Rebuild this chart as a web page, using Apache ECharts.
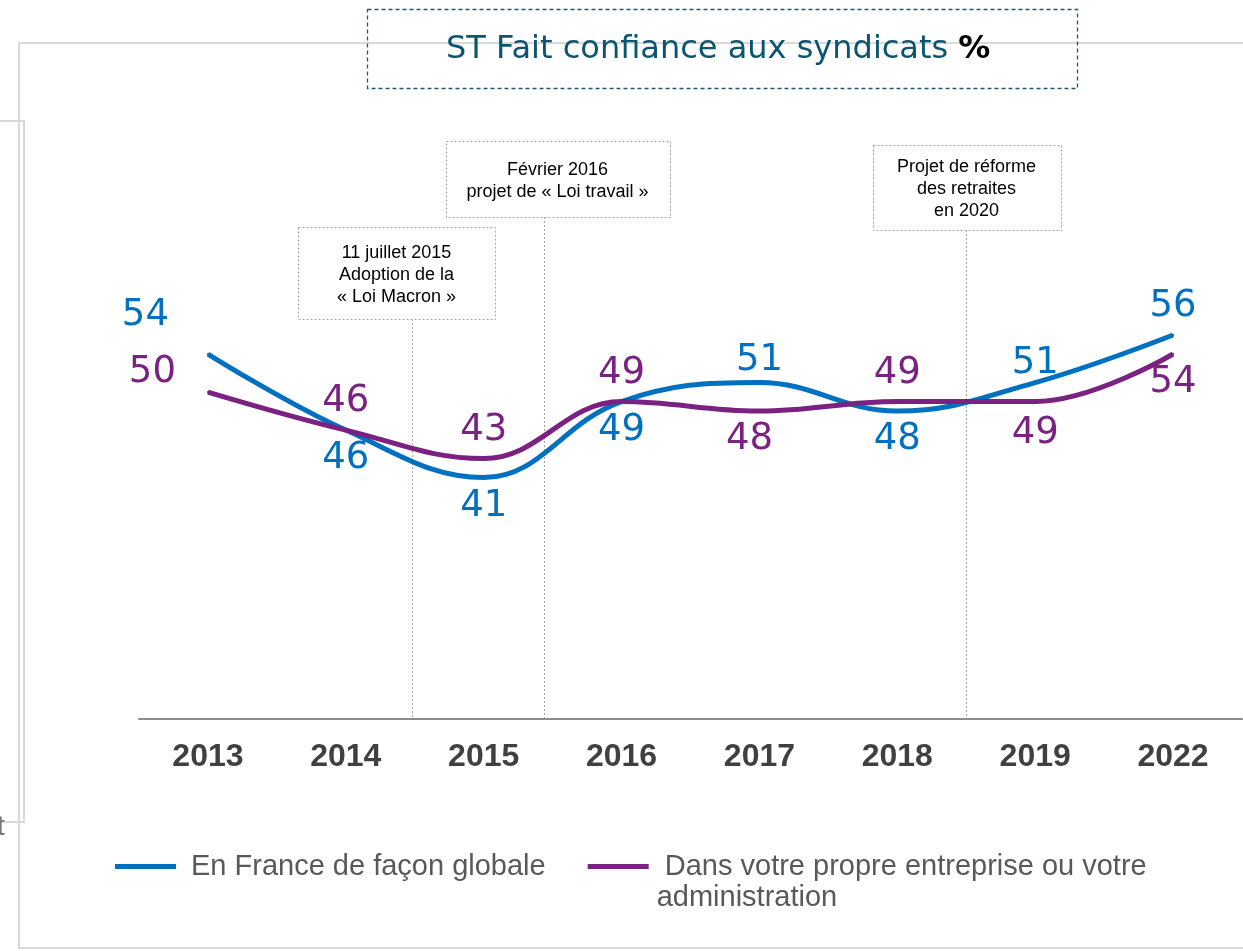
<!DOCTYPE html>
<html>
<head>
<meta charset="utf-8">
<title>ST Fait confiance aux syndicats</title>
<script src="https://cdn.jsdelivr.net/npm/echarts@6/dist/echarts.min.js"></script>
<style>
  html, body { margin: 0; padding: 0; background: #fff; }
  #chart { width: 1243px; height: 951px; }
</style>
</head>
<body>
<div id="chart"></div>
<script>
// data
const years = ['2013', '2014', '2015', '2016', '2017', '2018', '2019', '2022']
const franceGlobale = [54, 46, 41, 49, 51, 48, 51, 56]
const propreEntreprise = [50, 46, 43, 49, 48, 49, 49, 54]
const seriesNames = ['En France de façon globale', 'Dans votre propre entreprise ou votre\nadministration']
// events, placed on the year index scale (0 = 2013 ... 7 = 2022)
const eventPos = [1.48, 2.44, 5.5]
const eventText = [
  '11 juillet 2015\nAdoption de la\n« Loi Macron »',
  'Février 2016\nprojet de « Loi travail »',
  'Projet de réforme\ndes retraites\nen 2020'
]

// styles
const BLUE = '#0070c0'
const PURPLE = '#7b2182'
const blueSide = ['left', 'bottom', 'bottom', 'bottom', 'top', 'bottom', 'top', 'top']
const purpleSide = ['left', 'top', 'top', 'top', 'bottom', 'top', 'bottom', 'bottom']
const eventBox = [
  { dx: -16, top: 227, w: 197, h: 92 },
  { dx: 13, top: 141, w: 224, h: 76 },
  { dx: 0, top: 145, w: 188, h: 85 }
]

function buildData (values, sides, tweaks) {
  return values.map((v, i) => {
    const label = { position: sides[i], distance: 9 }
    if (tweaks[i]) Object.assign(label, tweaks[i])
    return { value: v, label }
  })
}

const myChart = echarts.init(document.getElementById('chart'))

const labelFont = {
  show: true,
  fontFamily: 'DejaVu Sans',
  fontSize: 37
}

const option = {
  backgroundColor: '#fff',
  animation: false,
  grid: {
    left: 139,
    right: 1,
    top: 297,
    bottom: 232,
    containLabel: false
  },
  legend: {
    left: 110,
    top: 815,
    icon: 'rect',
    itemWidth: 61,
    itemHeight: 5,
    itemGap: 42,
    selectedMode: false,
    formatter: (name) => name === seriesNames[1] ? '\n ' + name : name,
    textStyle: {
      fontFamily: 'Liberation Sans',
      fontSize: 29,
      color: '#595959',
      lineHeight: 31,
      padding: [0, 0, 0, 10]
    },
    data: [
      { name: seriesNames[0] },
      { name: seriesNames[1], textStyle: { padding: [0, 0, 0, 3] } }
    ]
  },
  xAxis: [
    {
      type: 'category',
      data: years,
      boundaryGap: true,
      axisTick: { show: false },
      axisLine: { lineStyle: { color: '#8c8c8c', width: 2 } },
      axisLabel: {
        margin: 22,
        fontFamily: 'Liberation Sans',
        fontWeight: 'bold',
        fontSize: 32,
        color: '#404040'
      },
      splitLine: { show: false }
    },
    {
      // same span as the category bands, used to place the events
      type: 'value',
      min: -0.5,
      max: years.length - 0.5,
      show: false
    }
  ],
  yAxis: {
    type: 'value',
    min: 15.6,
    max: 60,
    show: false,
    splitLine: { show: false }
  },
  series: [
    {
      name: seriesNames[0],
      type: 'line',
      smooth: 0.4,
      symbol: 'circle',
      symbolSize: 2,
      color: BLUE,
      lineStyle: { width: 5, color: BLUE },
      label: Object.assign({ color: BLUE }, labelFont),
      z: 2,
      data: buildData(franceGlobale, blueSide, {
        0: { distance: 38, offset: [0, -39] },
        4: { distance: 3 },
        6: { distance: 0 }
      })
    },
    {
      name: seriesNames[1],
      type: 'line',
      smooth: 0.4,
      symbol: 'circle',
      symbolSize: 2,
      color: PURPLE,
      lineStyle: { width: 5, color: PURPLE },
      label: Object.assign({ color: PURPLE }, labelFont),
      z: 3,
      data: buildData(propreEntreprise, purpleSide, {
        0: { distance: 31, offset: [0, -20] },
        4: { offset: [-10, 0] },
        6: { distance: 12 }
      })
    }
  ],
  graphic: [
    {
      type: 'rect',
      silent: true,
      shape: { x: 19, y: 43, width: 1300, height: 905 },
      style: { fill: 'none', stroke: '#d9d9d9', lineWidth: 2 }
    },
    {
      type: 'polyline',
      silent: true,
      shape: { points: [[0, 121], [24, 121], [24, 822], [0, 822]] },
      style: { fill: 'none', stroke: '#d9d9d9', lineWidth: 2 }
    },
    {
      type: 'text',
      silent: true,
      x: -3,
      y: 827,
      style: {
        text: 't',
        fontFamily: 'Liberation Sans',
        fontSize: 28,
        fill: '#767676',
        verticalAlign: 'middle'
      }
    },
    {
      type: 'rect',
      silent: true,
      shape: { x: 367.5, y: 9.5, width: 710, height: 79 },
      style: { fill: 'none', stroke: '#1d5a72', lineWidth: 1.3, lineDash: [4, 3] }
    },
    {
      type: 'text',
      silent: true,
      x: 446,
      y: 50,
      style: {
        text: '{a|ST Fait confiance aux syndicats }{b|%}',
        verticalAlign: 'middle',
        rich: {
          a: { fontFamily: 'DejaVu Sans', fontSize: 32, fill: '#0b5570' },
          b: { fontFamily: 'DejaVu Sans', fontSize: 32, fontWeight: 'bold', fill: '#000' }
        }
      }
    }
  ]
}

myChart.setOption(option)

// event markers: dotted line from the box down to the axis
const axisY = myChart.convertToPixel({ yAxisIndex: 0 }, 15.6)
const events = []
eventPos.forEach((pos, i) => {
  const x = Math.round(myChart.convertToPixel({ xAxisIndex: 1 }, pos)) + 0.5
  const b = eventBox[i]
  const cx = x + b.dx
  events.push({
    type: 'line',
    silent: true,
    shape: { x1: x, y1: b.top + b.h, x2: x, y2: axisY },
    style: { stroke: '#a6a6a6', lineWidth: 1, lineDash: [2, 2] }
  })
  events.push({
    type: 'rect',
    silent: true,
    shape: { x: Math.round(cx - b.w / 2) + 0.5, y: b.top + 0.5, width: b.w, height: b.h },
    style: { fill: '#fff', stroke: '#a6a6a6', lineWidth: 1, lineDash: [2, 2] }
  })
  events.push({
    type: 'text',
    silent: true,
    x: cx,
    y: b.top + b.h / 2 + 2,
    style: {
      text: eventText[i],
      align: 'center',
      verticalAlign: 'middle',
      fontFamily: 'Liberation Sans',
      fontSize: 18,
      lineHeight: 22,
      fill: '#000'
    }
  })
})
myChart.setOption({ graphic: option.graphic.concat(events) })
</script>
</body>
</html>
